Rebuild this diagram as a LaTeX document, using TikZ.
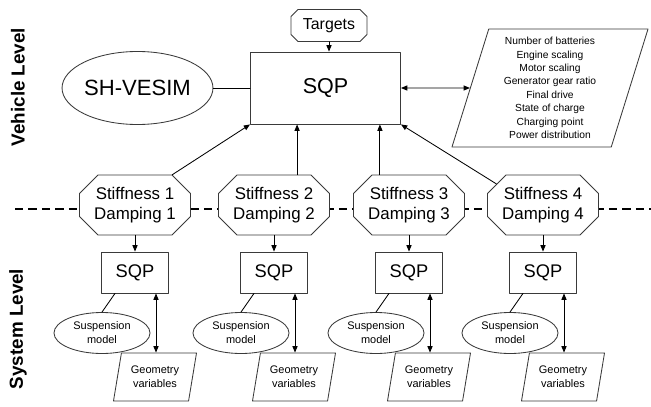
\documentclass[tikz,border=0pt]{standalone}
\usepackage{fontspec}
\setmainfont{Liberation Sans}
\usetikzlibrary{shapes.geometric,arrows.meta,calc}
\definecolor{FrameGray}{HTML}{3A3A3A}
% octagon outline: centre x, centre y, half width, half height, chamfer
\newcommand{\octapath}[5]{(#1-#3+#5,#2-#4) -- (#1+#3-#5,#2-#4) -- (#1+#3,#2-#4+#5) -- (#1+#3,#2+#4-#5) -- (#1+#3-#5,#2+#4) -- (#1-#3+#5,#2+#4) -- (#1-#3,#2+#4-#5) -- (#1-#3,#2-#4+#5) -- cycle}

\begin{document}
\begin{tikzpicture}[x=0.025cm,y=-0.025cm,line cap=round,line join=round,
  >={Triangle[length=4.5pt,width=3.6pt]},
  frame/.style={draw=FrameGray,line width=0.6pt,fill=white,align=center,inner sep=0pt},
  octaline/.style={draw=FrameGray,line width=0.6pt,fill=white},
  octatext/.style={rectangle,inner sep=0pt,align=center,minimum width=2.775cm,minimum height=1.5cm,font=\fontsize{12}{14.2}\selectfont},
  sqpbox/.style={frame,rectangle,minimum width=3.75cm,minimum height=1.8cm,font=\fontsize{15.3}{18}\selectfont},
  subsqp/.style={frame,rectangle,minimum width=1.675cm,minimum height=1.025cm,font=\fontsize{13}{15}\selectfont},
  oval/.style={frame,ellipse},
  slanted/.style={frame,trapezium,trapezium left angle=70,trapezium right angle=110,trapezium stretches body},
  levellabel/.style={rotate=90,font=\fontsize{13.4}{16}\selectfont\bfseries},
  link/.style={draw=black,line width=0.6pt}]
  \useasboundingbox (0,0) rectangle (651,407);
  % level divider
  \draw[line width=1.4pt,dash pattern=on 6pt off 3.6pt,line cap=butt] (15,209) -- (651,209);
  \node[levellabel] (vlevel) at (18,87) {Vehicle Level};
  \node[levellabel] (slevel) at (18,329) {System Level};
  % vehicle level
  \node[sqpbox] (sqp) at (325.5,88) {SQP};
  \filldraw[octaline] \octapath{329}{25.5}{38}{16}{7};
  \node[octatext,minimum width=1.9cm,minimum height=0.8cm,font=\fontsize{11.3}{13}\selectfont] (targets) at (329,25.5) {Targets};
  \node[oval,minimum width=3.325cm,minimum height=1.825cm,font=\fontsize{15.7}{18}\selectfont] (vesim) at (137.5,88) {SH-VESIM};
  \node[slanted,minimum width=4.9cm,minimum height=2.95cm,font=\fontsize{7.3}{9.5}\selectfont] (params) at (550,88)
    {Number of batteries\\Engine scaling\\Motor scaling\\Generator gear ratio\\Final drive\\State of charge\\Charging point\\Power distribution};
  \draw[link,->] (targets.south) -- (targets.south |- sqp.north);
  \draw[link] (vesim) -- (sqp);
  \draw[link,<->] (sqp) -- (params);
  % system level
  \foreach \i/\cx in {1/135,2/274,3/409,4/543}{
    \filldraw[octaline] \octapath{\cx}{205}{55.5}{30}{18.5};
    \node[octatext] (st\i) at (\cx,205) {Stiffness \i\\Damping \i};
    \node[subsqp] (box\i) at (\cx,272.5) {SQP};
    \node[oval,minimum width=2.4cm,minimum height=1.025cm,font=\fontsize{7.8}{10}\selectfont] (sus\i) at (\cx-33,333) {Suspension\\model};
    \node[slanted,minimum width=2.075cm,minimum height=1.2cm,font=\fontsize{7.8}{10}\selectfont] (geo\i) at (\cx+20,377) {Geometry\\variables};
    \draw[link,->] (st\i) -- (box\i);
    \draw[link] ([xshift=-0.5cm]box\i.south) -- (sus\i.north);
    \coordinate (dv\i) at ([xshift=0.525cm]box\i.south);
    \draw[link,<->] (dv\i) -- (dv\i |- geo\i.north);
  }
  \coordinate (up2) at ($(sqp.south)+(-0.71cm,0)$);
  \coordinate (up3) at ($(sqp.south)+(1.36cm,0)$);
  \draw[link,->] ([xshift=-0.4625cm]st1.north east) -- (sqp.south west);
  \draw[link,->] (up2 |- st2.north) -- (up2);
  \draw[link,->] (up3 |- st3.north) -- (up3);
  \draw[link,->] ([shift={(0.23cm,-0.23cm)}]st4.north west) -- (sqp.south east);
\end{tikzpicture}
\end{document}
